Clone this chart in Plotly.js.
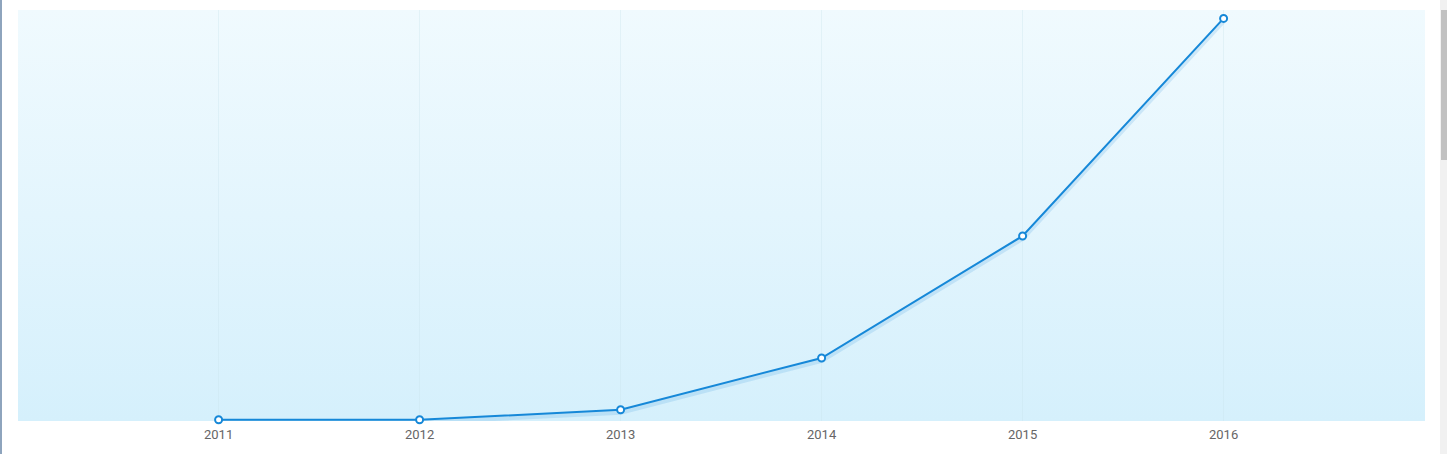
<!DOCTYPE html>
<html>
<head>
<meta charset="utf-8">
<script src="https://cdn.plot.ly/plotly-3.0.1.min.js"></script>
<style>
  html, body { margin: 0; padding: 0; background: #ffffff; overflow: hidden; }
  #wrap { position: relative; width: 1447px; height: 454px; }
  #bg { position: absolute; left: 18px; top: 10px; width: 1407px; height: 411px;
        background: linear-gradient(to bottom, #f0fafe 0%, #e3f5fd 50%, #d5f0fc 100%); }
  #chart { position: absolute; left: 0; top: 0; width: 1447px; height: 454px; }
  #leftbar { position: absolute; left: 0; top: 0; width: 2px; height: 454px; background: #8ea4bd; }
  #scroll { position: absolute; left: 1440px; top: 0; width: 7px; height: 454px; background: #f1f1f1; }
  #thumb { position: absolute; left: 1441px; top: 10px; width: 6px; height: 150px; background: #c1c1c1; }
</style>
</head>
<body>
<div id="wrap">
  <div id="bg"></div>
  <div id="chart"></div>
  <div id="leftbar"></div>
  <div id="scroll"></div>
  <div id="thumb"></div>
</div>
<script>
const years = [2011, 2012, 2013, 2014, 2015, 2016];
const tickLabels = ["2011", "2012", "2013", "2014", "2015", "2016"];
const values = [0, 0, 2.5, 15.4, 45.8, 100];

const shadow = {
  x: years, y: values.map(v => v - 0.6), type: 'scatter', mode: 'lines',
  line: { color: 'rgba(26,136,214,0.15)', width: 5 },
  hoverinfo: 'skip', showlegend: false
};
const main = {
  x: years, y: values, type: 'scatter', mode: 'lines+markers',
  line: { color: '#1688d8', width: 2 },
  marker: { size: 7, color: '#ffffff', line: { color: '#1688d8', width: 2 } },
  showlegend: false, cliponaxis: false
};

const layout = {
  width: 1447, height: 454,
  margin: { l: 18, r: 22, t: 10, b: 33 },
  paper_bgcolor: 'rgba(0,0,0,0)',
  plot_bgcolor: 'rgba(0,0,0,0)',
  font: { family: 'Roboto, "Open Sans", sans-serif', size: 13, color: '#666666' },
  xaxis: {
    range: [2010.002, 2017.002], tickvals: years, ticktext: tickLabels,
    showgrid: true, gridcolor: 'rgba(200,225,235,0.35)', gridwidth: 1,
    zeroline: false, showline: false, ticks: '', ticklen: 0, ticklabelstandoff: 4,
    tickfont: { size: 13, color: '#666666' }, fixedrange: true
  },
  yaxis: {
    range: [-0.3, 102.1], showgrid: false, zeroline: false, showline: false,
    showticklabels: false, ticks: '', fixedrange: true
  },
  showlegend: false
};

Plotly.newPlot('chart', [shadow, main], layout, { displayModeBar: false, staticPlot: true });
</script>
</body>
</html>
